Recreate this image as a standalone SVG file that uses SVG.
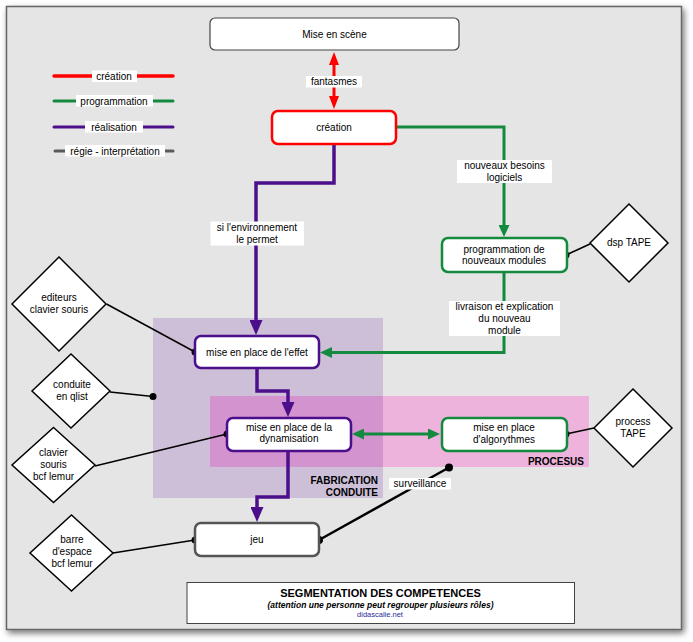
<svg xmlns="http://www.w3.org/2000/svg" width="693" height="642" viewBox="0 0 693 642">
<style>
text{font-family:"Liberation Sans",Arial,sans-serif;font-size:10px;fill:#000;text-anchor:middle}
.b{font-weight:bold}
.r{text-anchor:end}
.node{fill:#fff;stroke-width:2.5}
.dia{fill:#fff;stroke:#000;stroke-width:1.5}
.lab{fill:#fff;stroke:none}
.pur{fill:none;stroke:#4b0f8c;stroke-width:3.5}
.grn{fill:none;stroke:#138a3e;stroke-width:3}
.red{fill:none;stroke:#ff0000;stroke-width:3}
.blk{fill:none;stroke:#000;stroke-width:1.5}
.dot{fill:#000}
</style>
<defs>
<filter id="sh" x="-5%" y="-5%" width="110%" height="110%">
<feDropShadow dx="2" dy="3" stdDeviation="3" flood-color="#000" flood-opacity="0.55"/>
</filter>
<marker id="ap" markerUnits="userSpaceOnUse" viewBox="0 0 15 13" markerWidth="15" markerHeight="13" refX="9" refY="6.5" orient="auto"><path d="M0,0L15,6.5L0,13z" fill="#4b0f8c"/></marker>
<marker id="ag" markerUnits="userSpaceOnUse" viewBox="0 0 12 11" markerWidth="12" markerHeight="11" refX="7" refY="5.5" orient="auto-start-reverse"><path d="M0,0L12,5.5L0,11z" fill="#138a3e"/></marker>
<marker id="ar" markerUnits="userSpaceOnUse" viewBox="0 0 13 10" markerWidth="13" markerHeight="10" refX="8" refY="5" orient="auto-start-reverse"><path d="M0,0L13,5L0,10z" fill="#ff0000"/></marker>
</defs>

<rect x="6.5" y="6.5" width="675" height="623" fill="#e5e5e5" stroke="#666" stroke-width="1.5" filter="url(#sh)"/>

<g id="regions">
<rect x="153" y="318" width="230" height="180" fill="#cdbfd7"/>
<rect x="210" y="396" width="379" height="71" fill="#edb3dd"/>
<rect x="210" y="396" width="173" height="71" fill="#d393cf"/>
<text class="b r" x="378" y="484">FABRICATION</text>
<text class="b r" x="378" y="495.5">CONDUITE</text>
<text class="b r" x="584" y="464.5">PROCESUS</text>
</g>

<g id="legend">
<line x1="54" y1="76" x2="173" y2="76" stroke="#ff0000" stroke-width="3.5" stroke-linecap="round"/>
<rect class="lab" x="92" y="70.5" width="45" height="11.5"/>
<text x="114" y="79.5">création</text>
<line x1="54" y1="101" x2="173" y2="101" stroke="#138a3e" stroke-width="3" stroke-linecap="round"/>
<rect class="lab" x="76" y="95" width="77" height="11.5"/>
<text x="114" y="104.5">programmation</text>
<line x1="54" y1="127" x2="173" y2="127" stroke="#4b0f8c" stroke-width="3" stroke-linecap="round"/>
<rect class="lab" x="85" y="121" width="58" height="11.5"/>
<text x="114" y="130.5">réalisation</text>
<line x1="55" y1="151" x2="173" y2="151" stroke="#5a5a5a" stroke-width="3" stroke-linecap="round"/>
<rect class="lab" x="65" y="145" width="100" height="11.5"/>
<text x="115" y="154.5">régie - interprétation</text>
</g>

<g id="connectors">
<path class="red" d="M334,57V104" marker-start="url(#ar)" marker-end="url(#ar)"/>
<rect class="lab" x="306" y="76" width="56" height="11.5"/>
<text x="334" y="85">fantasmes</text>

<path class="grn" d="M396,127H504V232" marker-end="url(#ag)"/>
<rect class="lab" x="457" y="160" width="95" height="23"/>
<text x="504.5" y="169">nouveaux besoins</text>
<text x="504.5" y="181">logiciels</text>

<path class="pur" d="M334,144V183H256V329" marker-end="url(#ap)"/>
<rect class="lab" x="210.5" y="221.5" width="93.5" height="24"/>
<text x="257" y="230.5">si l'environnement</text>
<text x="257" y="242.5">le permet</text>

<path class="grn" d="M504,272V352.5H325" marker-end="url(#ag)"/>
<rect class="lab" x="449" y="301" width="111" height="35"/>
<text x="504.5" y="310">livraison et explication</text>
<text x="504.5" y="322">du nouveau</text>
<text x="504.5" y="333.5">module</text>

<path class="pur" d="M257,368V391H288V411" marker-end="url(#ap)"/>
<path class="pur" d="M288,451V497H257V516" marker-end="url(#ap)"/>

<path class="grn" d="M357,434H435" marker-start="url(#ag)" marker-end="url(#ag)"/>

<path class="blk" d="M106.5,304L195,352"/>
<circle class="dot" cx="195" cy="352" r="3.5"/>
<path class="blk" d="M110,392L153,396.5"/>
<circle class="dot" cx="153" cy="396.5" r="3.5"/>
<path class="blk" d="M95,466L227,434"/>
<circle class="dot" cx="227" cy="434" r="3.5"/>
<path class="blk" d="M113,553L195,540"/>
<circle class="dot" cx="195" cy="540" r="3.5"/>
<path class="blk" d="M566,255L590,244"/>
<circle class="dot" cx="566" cy="255" r="3.5"/>
<path class="blk" d="M566,434L594,428"/>
<circle class="dot" cx="566" cy="434" r="3.5"/>

<path d="M319,540L449,467.5" stroke="#000" stroke-width="2.5" fill="none"/>
<circle class="dot" cx="319" cy="540" r="4"/>
<circle class="dot" cx="449" cy="467.5" r="4"/>
<rect class="lab" x="389" y="478" width="62" height="11.5"/>
<text x="420" y="487">surveillance</text>
</g>

<g id="scene">
<rect x="210" y="18" width="249" height="32" rx="5" fill="#fff" stroke="#444" stroke-width="1.2"/>
<text x="334.5" y="37.5">Mise en scène</text>
</g>
<g id="creation">
<rect class="node" x="272" y="111" width="124" height="33" rx="6" stroke="#ff0000"/>
<text x="334" y="130.5">création</text>
</g>
<g id="programmation">
<rect class="node" x="442" y="238" width="125" height="34" rx="6" stroke="#138a3e"/>
<text x="504" y="252.5">programmation de</text>
<text x="504" y="263.5">nouveaux modules</text>
</g>
<g id="effet">
<rect class="node" x="195" y="336" width="124" height="32" rx="6" stroke="#4b0f8c"/>
<text x="257" y="355.5">mise en place de l'effet</text>
</g>
<g id="dynamisation">
<rect class="node" x="227" y="418" width="124" height="33" rx="6" stroke="#4b0f8c"/>
<text x="289" y="431">mise en place de la</text>
<text x="289" y="442">dynamisation</text>
</g>
<g id="algorythmes">
<rect class="node" x="442" y="418" width="125" height="33" rx="6" stroke="#138a3e"/>
<text x="504" y="431">mise en place</text>
<text x="504" y="443">d'algorythmes</text>
</g>
<g id="jeu">
<rect class="node" x="195" y="523" width="124" height="33" rx="6" stroke="#555"/>
<text x="257" y="543">jeu</text>
</g>

<g id="editeurs">
<polygon class="dia" points="59,257 106,304 59,351 12,304"/>
<text x="59" y="301">editeurs</text>
<text x="59" y="312.5">clavier souris</text>
</g>
<g id="conduite">
<polygon class="dia" points="71,354 110,391 71,428 32,391"/>
<text x="72" y="388">conduite</text>
<text x="72" y="400">en qlist</text>
</g>
<g id="clavier">
<polygon class="dia" points="53.5,427.5 95,465 53.5,502.5 12,465"/>
<text x="53.5" y="455.5">clavier</text>
<text x="53.5" y="467.5">souris</text>
<text x="53.5" y="479.5">bcf lemur</text>
</g>
<g id="barre">
<polygon class="dia" points="71.5,515 113,553 71.5,591 30,553"/>
<text x="72" y="542.5">barre</text>
<text x="72" y="554.5">d'espace</text>
<text x="72" y="566.5">bcf lemur</text>
</g>
<g id="dsp">
<polygon class="dia" points="629,204 668,243 629,282 590,243"/>
<text x="629" y="245.5">dsp TAPE</text>
</g>
<g id="process">
<polygon class="dia" points="633,389 672,428 633,467 594,428"/>
<text x="633" y="425">process</text>
<text x="633" y="436.5">TAPE</text>
</g>

<g id="title">
<rect x="187" y="582.5" width="387.5" height="41" fill="#fff" stroke="#444" stroke-width="1"/>
<text class="b" x="380.5" y="596.5" style="font-size:11px">SEGMENTATION DES COMPETENCES</text>
<text class="b" x="380.5" y="607.5" style="font-size:8.3px;font-style:italic" textLength="226" lengthAdjust="spacingAndGlyphs">(attention une personne peut regrouper plusieurs rôles)</text>
<text x="380" y="617" style="font-size:7.5px;fill:#2b2b9a">didascalie.net</text>
</g>
</svg>
